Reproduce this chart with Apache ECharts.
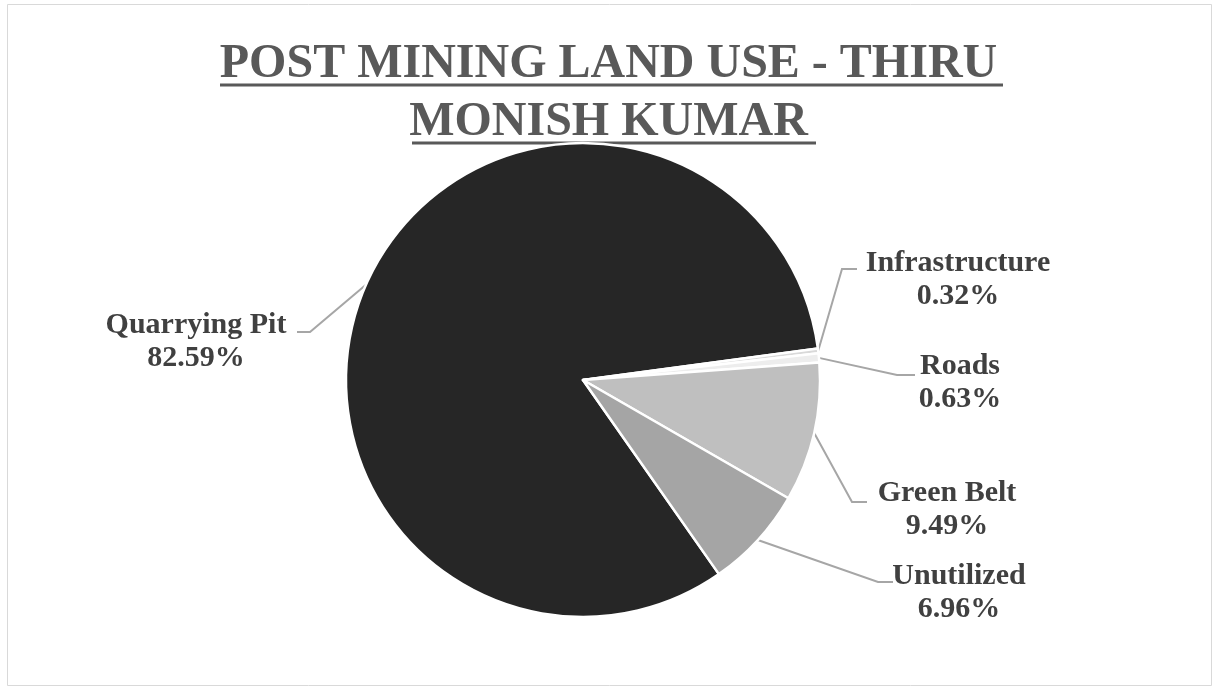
<!DOCTYPE html>
<html>
<head>
<meta charset="utf-8">
<style>
  html, body { margin: 0; padding: 0; background: #fff; }
  #main { width: 1217px; height: 690px; }
</style>
<script src="https://cdn.jsdelivr.net/npm/echarts@6/dist/echarts.min.js"></script>
</head>
<body>
<div id="main"></div>
<script>
// land use categories and their shares (%)
const categories = ['Quarrying Pit', 'Infrastructure', 'Roads', 'Green Belt', 'Unutilized']
const shares = [82.59, 0.32, 0.63, 9.49, 6.96]
const sliceColors = ['#262626', '#d9d9d9', '#ededed', '#bfbfbf', '#a5a5a5']

// where each label sits, plus the elbow / end of its leader line
const labelSpots = [
  { x: 196, y: 342, elbow: [310, 332], end: [297, 332] },
  { x: 958, y: 280, elbow: [842, 269], end: [857, 269] },
  { x: 960, y: 383, elbow: [897, 375], end: [915, 375] },
  { x: 947, y: 510, elbow: [852, 502], end: [867, 502] },
  { x: 959, y: 593, elbow: [878, 582], end: [893, 582] },
]

let myChart = echarts.init(document.getElementById('main'))

myChart.setOption({
  backgroundColor: '#ffffff',
  animation: false,
  title: {
    text: 'POST MINING LAND USE - THIRU\nMONISH KUMAR',
    left: 'center',
    top: 31,
    textStyle: {
      fontFamily: 'Liberation Serif',
      fontSize: 48,
      fontWeight: 'bold',
      color: '#595959',
      lineHeight: 58,
    },
  },
  graphic: [
    {
      type: 'rect',
      shape: { x: 7.5, y: 4.5, width: 1204, height: 681 },
      style: { fill: null, stroke: '#d9d9d9', lineWidth: 1 },
      silent: true,
    },
    // title underlines
    {
      type: 'line',
      shape: { x1: 220, y1: 85, x2: 1003, y2: 85 },
      style: { stroke: '#595959', lineWidth: 3 },
      silent: true,
    },
    {
      type: 'line',
      shape: { x1: 412, y1: 143, x2: 816, y2: 143 },
      style: { stroke: '#595959', lineWidth: 3 },
      silent: true,
    },
  ],
  series: [
    {
      type: 'pie',
      center: [583, 380],
      radius: 237,
      startAngle: -55,
      clockwise: true,
      avoidLabelOverlap: false,
      itemStyle: {
        borderColor: '#ffffff',
        borderWidth: 2.5,
      },
      label: {
        show: true,
        formatter: '{b}\n{c}%',
        fontFamily: 'Liberation Serif',
        fontSize: 30,
        fontWeight: 'bold',
        lineHeight: 33,
        color: '#404040',
      },
      labelLine: {
        show: true,
        length: 20,
        length2: 15,
        lineStyle: { color: '#a6a6a6', width: 2 },
      },
      labelLayout: function (params) {
        const spot = labelSpots[params.dataIndex]
        const pts = params.labelLinePoints
        const start = pts ? pts[0] : spot.elbow
        return {
          x: spot.x,
          y: spot.y,
          align: 'center',
          verticalAlign: 'middle',
          labelLinePoints: [start, spot.elbow, spot.end],
        }
      },
      data: categories.map((name, i) => ({
        name: name,
        value: shares[i],
        itemStyle: { color: sliceColors[i] },
      })),
    },
  ],
})
</script>
</body>
</html>
